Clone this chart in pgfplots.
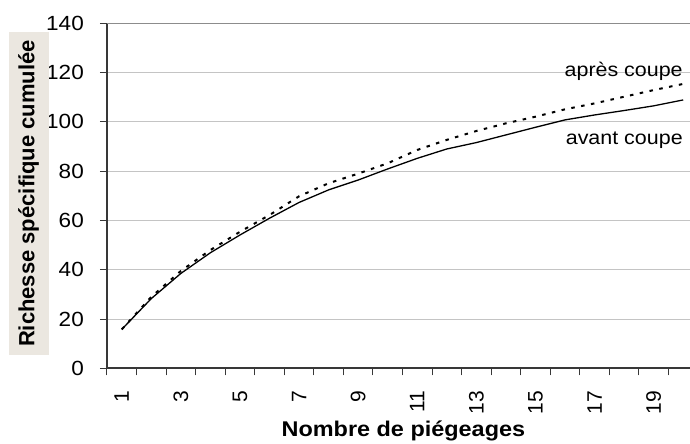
\documentclass[border=0pt]{standalone}
\usepackage{pgfplots}
\pgfplotsset{compat=1.18}
\usepackage{fontspec}
\setmainfont[FakeStretch=1.1]{Liberation Sans}
\newfontfamily\rotfont{Liberation Sans}

\definecolor{axisdark}{HTML}{383838}
\definecolor{gridgrey}{HTML}{C4C4C4}
\definecolor{toprule}{HTML}{8C8C8C}
\definecolor{labelbg}{HTML}{EBE7E0}

\pgfplotstableread{
n avant apres
1 15.8 15.8
2 28.3 29.0
3 38.5 39.5
4 46.9 48.0
5 54.1 55.4
6 60.9 62.2
7 67.3 69.8
8 72.4 75.1
9 76.4 79.0
10 80.9 83.2
11 85.2 88.6
12 89.0 92.7
13 91.6 96.3
14 94.7 99.4
15 97.8 102.1
16 100.8 105.1
17 102.8 107.5
18 104.6 110.2
19 106.5 112.9
20 108.9 115.4
}\richesse

\begin{document}
\begin{tikzpicture}
\useasboundingbox (-107bp,-75.7bp) rectangle (583bp,368.3bp);
\begin{axis}[
  at={(0,0)}, anchor=south west,
  scale only axis,
  width=583bp, height=345bp,
  xmin=0.5, xmax=20.23,
  ymin=0, ymax=140,
  axis x line*=bottom, axis y line*=left,
  axis line style={-, axisdark, line width=1.8bp},
  tick align=outside,
  major tick length=7bp,
  tick style={axisdark, line width=1bp},
  xtick={0.5,1.5,...,19.5},
  xticklabels={},
  extra x ticks={1,3,...,19},
  extra x tick style={major tick length=0pt},
  xticklabel style={rotate=90, anchor=east, inner sep=0pt, xshift=-22.5bp,
    font=\rotfont\fontsize{21bp}{21bp}\selectfont},
  ytick={0,20,...,120},
  extra y ticks={140},
  extra y tick style={grid style={toprule, line width=1.5bp}},
  yticklabel style={anchor=east, inner sep=0pt, xshift=-16bp,
    font=\fontsize{20.5bp}{20.5bp}\selectfont},
  /pgf/number format/assume math mode=true,
  ymajorgrids=true,
  grid style={gridgrey, line width=0.9bp},
  xlabel={Nombre de piégeages},
  xlabel style={at={(axis description cs:0.5084,-0.1991)}, anchor=base, inner sep=0pt,
    font=\fontsize{21.3bp}{21.3bp}\selectfont\bfseries},
  ylabel={Richesse spécifique cumulée},
  ylabel style={at={(axis description cs:-0.1346,0.5067)}, anchor=center,
    fill=labelbg, minimum width=323bp, minimum height=40bp, inner sep=0pt,
    font=\rotfont\fontsize{22bp}{22bp}\selectfont\bfseries},
  clip=false,
]
\addplot[black, line width=1.3bp] table[x=n, y=avant] {\richesse};
\addplot[black, line width=2bp, dash pattern=on 3.5bp off 6.5bp] table[x=n, y=apres] {\richesse};
\node[anchor=base east, inner sep=0pt, font=\fontsize{19.5bp}{19.5bp}\selectfont] at (axis cs:19.99,118.6) {après coupe};
\node[anchor=base east, inner sep=0pt, font=\fontsize{19.5bp}{19.5bp}\selectfont] at (axis cs:19.99,91.0) {avant coupe};
\end{axis}
\end{tikzpicture}
\end{document}
